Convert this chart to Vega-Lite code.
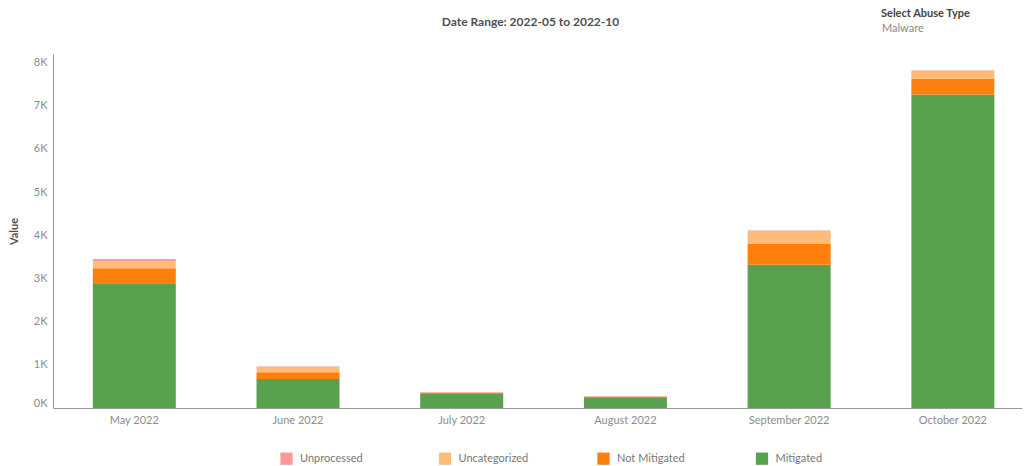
{
  "$schema": "https://vega.github.io/schema/vega-lite/v6.json",
  "width": 969,
  "height": 354,
  "autosize": {"type": "none"},
  "padding": {"left": 53, "top": 54, "right": 3, "bottom": 58},
  "config": {
    "font": "Lato",
    "view": {"stroke": null},
    "axis": {"domainColor": "#9a9a9a", "labelColor": "#8c8c8c", "labelFontSize": 11, "grid": false, "ticks": false}
  },
  "title": {
    "text": "Date Range: 2022-05 to 2022-10",
    "anchor": "middle",
    "frame": "group",
    "fontSize": 12,
    "fontWeight": "bold",
    "color": "#505050",
    "offset": -21,
    "dx": -7
  },
  "data": {
    "values": [
      {"month": "May 2022", "status": "Mitigated", "value": 2890, "abuse_type": "Malware"},
      {"month": "May 2022", "status": "Not Mitigated", "value": 350, "abuse_type": "Malware"},
      {"month": "May 2022", "status": "Uncategorized", "value": 155, "abuse_type": "Malware"},
      {"month": "May 2022", "status": "Unprocessed", "value": 55, "abuse_type": "Malware"},
      {"month": "June 2022", "status": "Mitigated", "value": 673, "abuse_type": "Malware"},
      {"month": "June 2022", "status": "Not Mitigated", "value": 155, "abuse_type": "Malware"},
      {"month": "June 2022", "status": "Uncategorized", "value": 123, "abuse_type": "Malware"},
      {"month": "June 2022", "status": "Unprocessed", "value": 10, "abuse_type": "Malware"},
      {"month": "July 2022", "status": "Mitigated", "value": 340, "abuse_type": "Malware"},
      {"month": "July 2022", "status": "Not Mitigated", "value": 12, "abuse_type": "Malware"},
      {"month": "July 2022", "status": "Uncategorized", "value": 5, "abuse_type": "Malware"},
      {"month": "July 2022", "status": "Unprocessed", "value": 13, "abuse_type": "Malware"},
      {"month": "August 2022", "status": "Mitigated", "value": 250, "abuse_type": "Malware"},
      {"month": "August 2022", "status": "Not Mitigated", "value": 12, "abuse_type": "Malware"},
      {"month": "August 2022", "status": "Uncategorized", "value": 5, "abuse_type": "Malware"},
      {"month": "August 2022", "status": "Unprocessed", "value": 13, "abuse_type": "Malware"},
      {"month": "September 2022", "status": "Mitigated", "value": 3318, "abuse_type": "Malware"},
      {"month": "September 2022", "status": "Not Mitigated", "value": 480, "abuse_type": "Malware"},
      {"month": "September 2022", "status": "Uncategorized", "value": 302, "abuse_type": "Malware"},
      {"month": "September 2022", "status": "Unprocessed", "value": 10, "abuse_type": "Malware"},
      {"month": "October 2022", "status": "Mitigated", "value": 7262, "abuse_type": "Malware"},
      {"month": "October 2022", "status": "Not Mitigated", "value": 371, "abuse_type": "Malware"},
      {"month": "October 2022", "status": "Uncategorized", "value": 186, "abuse_type": "Malware"},
      {"month": "October 2022", "status": "Unprocessed", "value": 5, "abuse_type": "Malware"}
    ]
  },
  "encoding": {
    "x": {
      "field": "month",
      "type": "ordinal",
      "sort": ["May 2022", "June 2022", "July 2022", "August 2022", "September 2022", "October 2022"],
      "scale": {"paddingInner": 0.493, "paddingOuter": 0.206, "align": 0.59},
      "axis": {"title": null, "labelAngle": 0, "labelPadding": 6}
    }
  },
  "layer": [
    {
      "mark": {"type": "bar"},
      "encoding": {
        "y": {
          "field": "value",
          "type": "quantitative",
          "stack": "zero",
          "scale": {"domain": [0, 8200], "nice": false},
          "axis": {
            "title": "Value",
            "titleColor": "#505050",
            "titleFontSize": 11,
            "titleFontWeight": "bold",
            "titlePadding": 14,
            "values": [0, 1000, 2000, 3000, 4000, 5000, 6000, 7000, 8000],
            "labelExpr": "format(datum.value / 1000, 'd') + 'K'",
            "labelFlush": true,
            "labelPadding": 6
          }
        },
        "color": {
          "field": "status",
          "type": "nominal",
          "scale": {
            "domain": ["Unprocessed", "Uncategorized", "Not Mitigated", "Mitigated"],
            "range": ["#ff9896", "#ffbb78", "#ff7f0e", "#59a14f"]
          },
          "legend": {
            "title": null,
            "orient": "none",
            "legendX": 227,
            "legendY": 398,
            "direction": "horizontal",
            "columns": 4,
            "gridAlign": "all",
            "columnPadding": 68.5,
            "symbolType": "square",
            "symbolSize": 150,
            "symbolStrokeWidth": 0,
            "symbolOpacity": 1,
            "labelFontSize": 11,
            "labelColor": "#777777",
            "labelOffset": 7
          }
        },
        "order": {"field": "status", "sort": "ascending"}
      }
    },
    {
      "mark": {"type": "point", "opacity": 0},
      "encoding": {
        "y": {"field": "value", "type": "quantitative"},
        "shape": {
          "field": "abuse_type",
          "type": "nominal",
          "legend": {
            "title": "Select Abuse Type",
            "titleFontSize": 11,
            "titleFontWeight": "bold",
            "titleColor": "#444444",
            "titlePadding": 4,
            "orient": "none",
            "legendX": 828,
            "legendY": -46,
            "symbolSize": 0,
            "symbolOpacity": 0,
            "symbolStrokeWidth": 0,
            "labelOffset": -10,
            "labelFontSize": 11,
            "labelColor": "#888888"
          }
        }
      }
    }
  ]
}
